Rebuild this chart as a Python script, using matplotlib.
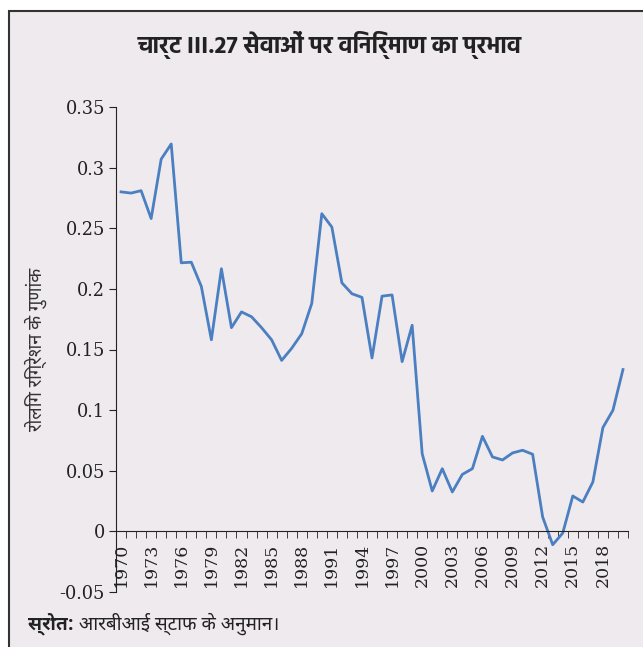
import matplotlib
matplotlib.use("Agg")
import matplotlib.pyplot as plt
from matplotlib.patches import Rectangle
import numpy as np

years = list(range(1970, 2021))
values = [0.280, 0.279, 0.281, 0.258, 0.307, 0.3195, 0.2215, 0.222, 0.202, 0.158,
          0.2166, 0.168, 0.181, 0.177, 0.168, 0.158, 0.141, 0.151, 0.163, 0.188,
          0.262, 0.251, 0.205, 0.196, 0.193, 0.143, 0.194, 0.195, 0.140, 0.170,
          0.064, 0.0333, 0.0517, 0.0325, 0.047, 0.0517, 0.0784, 0.0614, 0.0589, 0.0647,
          0.0669, 0.0636, 0.0118, -0.011, -0.0014, 0.0292, 0.0242, 0.0407, 0.0856, 0.0999,
          0.1335]
year_labels = [str(y) for y in range(1970, 2019, 3)]
yticks = [-0.05, 0, 0.05, 0.1, 0.15, 0.2, 0.25, 0.3, 0.35]
ytick_labels = ["-0.05", "0", "0.05", "0.1", "0.15", "0.2", "0.25", "0.3", "0.35"]

title = "चार्ट III.27 सेवाओं पर विनिर्माण का प्रभाव"
ylabel = "रोलिंग रिग्रेशन के गुणांक"
source_bold = "स्रोत:"
source_rest = " आरबीआई स्टाफ के अनुमान।"

title_fam = ["Hind", "FreeSans", "DejaVu Sans"]
text_fam = ["Noto Sans Devanagari UI", "Hind", "FreeSans", "DejaVu Sans"]

bg = "#EFEAED"
W, H = 643, 647
fig = plt.figure(figsize=(W / 100, H / 100), dpi=100, facecolor="white")
fig.patches.append(Rectangle((9 / W, -0.01), 1.0, 1 - 11 / H + 0.01, transform=fig.transFigure,
                             facecolor=bg, edgecolor="#333333", linewidth=1.5, zorder=-5))

ax = fig.add_axes([116 / W, 1 - 592 / H, (628 - 116) / W, (592 - 107) / H])
ax.set_facecolor("none")
x = np.arange(len(years))
ax.plot(x, values, color="#4A7FC1", linewidth=2.0)
ax.set_xlim(-0.5, len(years) - 0.5)
ax.set_ylim(-0.05, 0.35)

for s in ["top", "right"]:
    ax.spines[s].set_visible(False)
ax.spines["bottom"].set_position(("data", 0))
ax.spines["left"].set_color("#222222")
ax.spines["bottom"].set_color("#222222")

ax.set_yticks(yticks)
ax.set_yticklabels(ytick_labels, family="DejaVu Serif", fontsize=12.8, color="#222222")
ax.tick_params(axis="y", direction="out", length=5, color="#222222", pad=3)

ax.set_xticks(np.arange(0, 49, 3))
ax.set_xticklabels(year_labels, rotation=90, family="DejaVu Serif", fontsize=12.5,
                   color="#222222")
ax.set_xticks(np.arange(-0.5, len(years), 1), minor=True)
ax.tick_params(axis="x", which="major", length=0, pad=8)
ax.tick_params(axis="x", which="minor", direction="out", length=5, color="#222222")

fig.text(330 / W, 1 - 45 / H, title, ha="center", va="center", fontsize=17,
         fontweight="bold", family=title_fam, color="#222222")
fig.text(36 / W, 1 - 349 / H, ylabel, ha="center", va="center", rotation=90,
         fontsize=13.2, family=text_fam, color="#333333")
t1 = fig.text(28 / W, 1 - 624 / H, source_bold, ha="left", va="center", fontsize=13.6,
              fontweight="bold", family=text_fam, color="#222222")
fig.canvas.draw()
bb = t1.get_window_extent()
fig.text(bb.x1 / W, 1 - 624 / H, source_rest, ha="left", va="center", fontsize=13.6,
         family=text_fam, color="#222222")

fig.savefig("out.png", dpi=100, facecolor="white")
